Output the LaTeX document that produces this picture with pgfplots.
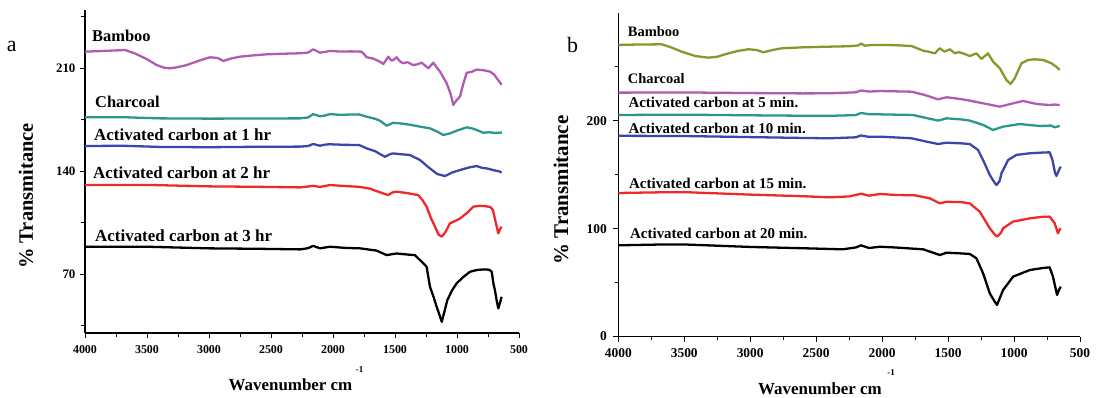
\documentclass[border=0pt]{standalone}
\usepackage{fontspec}
\setmainfont{Liberation Serif}
\usepackage{pgfplots}
\pgfplotsset{compat=1.18}
\definecolor{cOrch}{HTML}{B05AB4}
\definecolor{cTeal}{HTML}{2A968C}
\definecolor{cBlue}{HTML}{3C46AA}
\definecolor{cRed}{HTML}{F02828}
\definecolor{cOlive}{HTML}{8A962A}
\pgfplotsset{
  myax/.style={
    scale only axis, anchor=south west,
    axis x line*=bottom, axis y line*=left,
    x dir=reverse, xmin=500, xmax=4000,
    xtick={500,1000,...,4000}, minor xtick={750,1250,...,3750},
    tick align=outside, major tick length=5bp, minor tick length=3.5bp,
    every tick/.style={black, line width=0.9pt},
    axis line style={black, line width=1.1pt},
    /pgf/number format/assume math mode=true,
    /pgf/number format/1000 sep={},
    every axis plot/.append style={line width=2.3pt, line join=round, mark=none},
  }
}
\newcommand{\lbl}[1]{\bfseries\fontsize{#1}{#1}\selectfont}
\begin{document}
\begin{tikzpicture}[x=1bp,y=1bp]
\path[use as bounding box] (0,0) rectangle (1098,397);
% ---------------- panel a ----------------
\begin{axis}[myax, at={(85bp,64bp)}, width=434bp, height=323bp,
  ymin=30, ymax=249.4, ytick={70,140,210}, minor ytick={35,105,175,245},
  xticklabel style={font=\lbl{12}, yshift=-4bp},
  yticklabel style={font=\lbl{13}, xshift=-1bp}]
\addplot[cOrch] coordinates {(4000,221.1)(3850,221.6)(3677,222.2)(3600,220)(3500,216)(3422,212.0)(3360,210.2)(3315,209.8)(3250,210.6)(3180,212.0)(3080,215)(2992,217.3)(2930,216.8)(2885,214.8)(2820,216.5)(2750,217.7)(2650,218.5)(2535,219.3)(2400,219.7)(2266,220)(2200,220.5)(2159,222.7)(2105,220.4)(2060,221)(2024,221.6)(1950,221.2)(1850,221.3)(1769,221.1)(1728,217.3)(1680,216.5)(1621,214.3)(1594,212.7)(1554,217.7)(1530,215)(1514,215.4)(1487,217.3)(1460,214.5)(1433,213.2)(1400,214)(1353,212.0)(1320,212.5)(1285,213.6)(1231,209.8)(1191,213.6)(1160,210)(1137,207.6)(1083,199.6)(1050,192)(1030,184.9)(1005,188)(976,190.6)(950,199)(922,206.7)(880,207.5)(841,208.9)(788,208.5)(734,207.6)(700,205.5)(680,203.1)(660,201)(640,198.6)};
\addplot[cTeal] coordinates {(4000,176.5)(3700,176.6)(3400,175.8)(3000,175.6)(2600,175.7)(2266,175.8)(2200,176.4)(2159,178.7)(2105,177.2)(2060,177.8)(2024,178.7)(1950,178.2)(1850,178.4)(1790,178.5)(1728,176.9)(1660,175.5)(1621,174.2)(1567,170.8)(1514,172.8)(1460,172.4)(1380,171.5)(1300,170.2)(1218,169.0)(1160,166.8)(1110,164.5)(1056,165.6)(1000,167.5)(922,169.7)(880,169)(841,167.9)(788,166.0)(740,166.4)(700,165.9)(653,166.0)(637,166.3)};
\addplot[cBlue] coordinates {(4000,157)(3700,157.2)(3400,156.4)(3000,156.2)(2600,156.5)(2266,156.6)(2200,157)(2160,158.4)(2105,157.2)(2060,158)(2025,158.2)(1900,157.8)(1790,157.7)(1728,155.4)(1660,153.5)(1620,151.5)(1580,149.7)(1540,151.5)(1516,152)(1460,151.5)(1380,150.9)(1298,147.5)(1250,144)(1218,141.8)(1160,138)(1097,136.6)(1040,139)(976,140.7)(900,142.5)(841,143.4)(800,142.2)(760,141.8)(700,140.5)(660,139.8)(640,138.9)};
\addplot[cRed] coordinates {(4000,130.5)(3500,130.6)(3000,129.6)(2600,129.3)(2266,128.9)(2200,129.5)(2160,130)(2105,129.2)(2025,130.5)(1900,129.8)(1790,129.3)(1700,128)(1620,125.5)(1580,124.4)(1556,123.7)(1520,125.5)(1486,126)(1400,125)(1314,123.7)(1280,120.5)(1245,115.8)(1210,108)(1177,102.2)(1150,97)(1123,95.4)(1090,99)(1057,104.5)(1010,106.3)(976,107.8)(920,111.5)(868,115.8)(820,116.4)(774,116.2)(730,115.5)(710,113.5)(690,106)(667,97.7)(650,101)(640,102.2)};
\addplot[black] coordinates {(4000,88.6)(3500,88.6)(3000,87.5)(2600,87.2)(2266,86.8)(2200,87.6)(2160,89.2)(2105,87.5)(2025,88.6)(1900,87.8)(1782,87.5)(1650,86)(1567,82.9)(1520,83.6)(1486,84)(1400,83.3)(1339,82.9)(1272,77.3)(1245,75)(1218,61.4)(1191,55)(1164,47.8)(1140,42)(1123,37.6)(1100,45)(1078,52.3)(1040,59)(1003,63.7)(950,68)(895,71.6)(840,72.8)(788,73.2)(740,73)(720,71.6)(705,63)(694,59.1)(680,52)(667,46.7)(655,50)(640,54.6)};
\end{axis}
% ---------------- panel b ----------------
\begin{axis}[myax, at={(618.3bp,60.5bp)}, width=461.7bp, height=323.7bp,
  ymin=0, ymax=300, ytick={0,100,200}, minor ytick={50,150,250},
  xticklabel style={font=\lbl{13.5}, yshift=-4bp},
  yticklabel style={font=\lbl{13.5}, xshift=-3bp}]
\addplot[cOlive] coordinates {(4000,270.2)(3850,270.6)(3671,270.8)(3600,268)(3520,264)(3419,260)(3318,258.4)(3250,259.3)(3192,261.5)(3100,264.5)(3015,266.2)(2950,265.5)(2901,263.4)(2830,265.5)(2762,267.1)(2600,268)(2409,268.6)(2250,269)(2180,269.8)(2160,271.5)(2130,269.5)(2080,270.2)(2017,270.2)(1900,270)(1777,269.2)(1689,264.9)(1650,264)(1601,262.4)(1563,267.1)(1540,265)(1525,264.0)(1487,266.2)(1449,262.5)(1420,263.5)(1386,262.4)(1336,259.9)(1285,262.4)(1247,257.3)(1197,262.4)(1159,254.7)(1108,248.6)(1058,237.7)(1027,234.0)(995,239.3)(944,253.2)(894,256.3)(843,256.9)(780,256.3)(717,253.2)(680,250)(654,247.0)};
\addplot[cOrch] coordinates {(4000,226)(3500,226.2)(3000,225.6)(2600,225.3)(2398,225.4)(2200,226.3)(2160,228)(2100,227)(2017,227.5)(1900,227.2)(1777,226.9)(1676,223.8)(1576,219.8)(1512,221.7)(1450,220.8)(1361,219.2)(1209,215.5)(1108,213.0)(1007,216.1)(932,218.3)(830,215.5)(730,214.5)(690,215)(654,214.5)};
\addplot[cTeal] coordinates {(4000,205.3)(3500,205.6)(3000,205)(2600,204.6)(2398,204.5)(2200,205.2)(2160,207.2)(2100,206)(2017,205.9)(1900,205.6)(1767,205.3)(1691,203.2)(1576,200.1)(1512,202.2)(1400,201.2)(1336,200.1)(1235,196.1)(1159,191.4)(1083,194.5)(957,196.9)(880,196)(805,195.1)(720,195.5)(692,193.9)(654,195.1)};
\addplot[cBlue] coordinates {(4000,186)(3500,185.8)(3000,184.8)(2600,184)(2398,183.7)(2200,184.6)(2160,186.3)(2100,185)(2017,185.2)(1900,184.5)(1777,183.7)(1664,180.6)(1576,178.4)(1512,179.6)(1400,179)(1336,178.4)(1273,172.9)(1235,163.6)(1184,149.7)(1150,143)(1133,140.4)(1110,144)(1095,151.3)(1045,163.6)(982,168.3)(881,169.8)(780,170.5)(730,170.7)(709,163.6)(690,152)(679,148.8)(660,154)(646,157.4)};
\addplot[cRed] coordinates {(4000,133)(3700,133.6)(3500,133.8)(3000,131.5)(2600,130)(2398,129)(2250,129.8)(2160,132.3)(2100,130.5)(2017,132.1)(1900,131.2)(1750,130.8)(1639,128.1)(1563,123.4)(1512,124.9)(1400,124.5)(1336,123.4)(1260,115.7)(1184,100.3)(1150,95)(1129,92.6)(1100,96)(1083,100.3)(1007,106.5)(881,109.5)(780,111)(730,111.1)(692,104.9)(667,95.6)(655,99)(646,100.3)};
\addplot[black] coordinates {(4000,84.5)(3700,85.2)(3500,85.3)(3000,83)(2600,81.8)(2300,80.8)(2200,82.5)(2160,84.5)(2100,82)(2017,83.2)(1900,82.5)(1689,80.8)(1563,75.5)(1512,77.7)(1400,77)(1336,76.5)(1285,72.5)(1235,58.6)(1184,40.0)(1150,33)(1129,29.2)(1110,35)(1083,43.1)(1007,55.5)(881,61.6)(780,63.5)(730,64.1)(705,55.5)(674,38.5)(660,43)(646,46.2)};
\end{axis}
% ---------------- texts ----------------
\begin{scope}[every node/.style={inner sep=0pt, anchor=base west}]
\node at (6.7,345.3) {\fontsize{22}{22}\selectfont a};
\node at (567,345) {\fontsize{22}{22}\selectfont b};
\node at (92,355.5) {\lbl{16.5}Bamboo};
\node at (95,290) {\lbl{16.5}Charcoal};
\node at (94,256.5) {\lbl{17}Activated carbon at 1 hr};
\node at (93,219) {\lbl{17}Activated carbon at 2 hr};
\node at (95,155.5) {\lbl{17}Activated carbon at 3 hr};
\node at (627.7,360.3) {\lbl{14.5}Bamboo};
\node at (627.7,314) {\lbl{14.5}Charcoal};
\node at (628.3,290) {\lbl{15}Activated carbon at 5 min.};
\node at (628.3,264) {\lbl{15}Activated carbon at 10 min.};
\node at (629,209) {\lbl{15}Activated carbon at 15 min.};
\node at (630,159) {\lbl{15}Activated carbon at 20 min.};
\end{scope}
\node[inner sep=0pt, anchor=base] at (290.5,6.3) {\lbl{17}Wavenumber cm};
\node[inner sep=0pt] at (359.5,27) {\lbl{9}-1};
\node[inner sep=0pt, anchor=base] at (820,3) {\lbl{17}Wavenumber cm};
\node[inner sep=0pt] at (891,24) {\lbl{9}-1};
\node[inner sep=0pt, rotate=90] at (26,201) {\lbl{20.5}\% Transmitance};
\node[inner sep=0pt, rotate=90] at (561,207) {\lbl{21}\% Transmitance};
\end{tikzpicture}
\end{document}
